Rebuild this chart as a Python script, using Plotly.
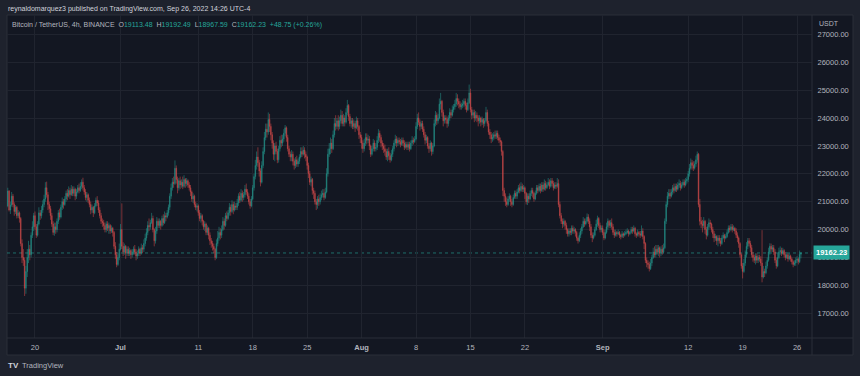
import plotly.graph_objects as go
import pandas as pd

# ---------------- data (BTC/USDT, 4h candles) ----------------
START = "2022-06-16 12:00"
FIRST_OPEN = 20850

CLOSES = [
    21380, 20700, 20880,                                  # Jun 16 (from 12:00)
    21200, 20900, 20650, 20800, 20500, 20600,             # Jun 17
    20400, 19500, 19000, 18900, 17900, 18500,             # Jun 18
    19000, 19300, 19100, 19800, 20100, 20500,             # Jun 19
    20100, 19800, 20200, 20600, 20500, 20700,             # Jun 20
    20900, 21100, 21500, 21250, 20900, 20750,             # Jun 21
    20500, 20200, 19900, 20100, 20000, 20300,             # Jun 22
    20600, 20450, 20800, 21000, 20900, 21100,             # Jun 23
    21300, 21200, 21400, 21250, 21450, 21300,             # Jun 24
    21450, 21200, 21350, 21500, 21400, 21550,             # Jun 25
    21700, 21500, 21350, 21150, 21250, 21050,             # Jun 26
    20900, 20700, 20800, 20600, 20850, 21050,             # Jun 27
    20950, 20700, 20500, 20300, 20250, 20150,             # Jun 28
    20000, 20200, 20050, 20150, 19950, 20050,             # Jun 29
    19900, 19400, 19100, 18750, 19000, 19300,             # Jun 30
    20000, 19400, 19200, 19400, 19150, 19300,             # Jul 1
    19150, 19250, 19100, 19200, 19300, 19200,             # Jul 2
    19050, 19150, 19300, 19150, 19350, 19300,             # Jul 3
    19500, 19700, 19900, 20150, 20100, 20250,             # Jul 4
    20400, 20000, 19600, 19950, 20300, 20150,             # Jul 5
    20300, 20150, 20400, 20250, 20500, 20450,             # Jul 6
    20600, 20800, 21200, 21500, 21700, 21650,             # Jul 7
    22200, 21800, 21500, 21750, 21600, 21700,             # Jul 8
    21550, 21800, 21650, 21750, 21600, 21500,             # Jul 9
    21350, 21100, 21200, 20900, 20800, 20850,             # Jul 10
    20600, 20400, 20500, 20300, 20100, 20200,             # Jul 11
    19900, 20050, 19800, 19600, 19500, 19400,             # Jul 12
    19300, 19000, 19500, 19700, 19900, 19800,             # Jul 13
    20000, 20300, 20150, 20500, 20400, 20600,             # Jul 14
    20800, 20650, 20900, 20700, 20850, 20800,             # Jul 15
    20950, 21200, 21050, 21300, 21150, 21250,             # Jul 16
    21450, 21350, 21200, 21000, 20850, 21100,             # Jul 17
    21500, 21900, 22300, 22600, 22400, 22100,             # Jul 18
    21700, 22300, 22800, 23300, 23600, 23500,             # Jul 19
    23950, 23700, 23400, 23100, 22700, 23000,             # Jul 20
    22800, 22500, 22900, 23200, 23100, 23250,             # Jul 21
    23450, 23650, 23300, 22900, 22700, 22600,             # Jul 22
    22700, 22450, 22300, 22500, 22350, 22450,             # Jul 23
    22600, 22800, 22700, 22850, 22700, 22600,             # Jul 24
    22300, 22000, 21700, 21800, 21400, 21300,             # Jul 25
    21000, 20900, 21100, 21000, 21150, 21250,             # Jul 26
    21300, 21150, 21350, 22000, 22700, 22900,             # Jul 27
    23100, 22900, 23400, 23800, 23700, 23900,             # Jul 28
    23700, 23900, 24100, 23800, 24000, 23850,             # Jul 29
    24200, 24450, 24050, 23800, 23900, 23700,             # Jul 30
    23800, 23650, 23900, 23700, 23400, 23300,             # Jul 31
    23100, 22900, 23100, 23300, 23200, 23250,             # Aug 1
    23000, 22700, 22900, 23100, 22900, 22950,             # Aug 2
    23200, 23450, 23300, 23100, 23000, 22900,             # Aug 3
    22800, 22600, 22800, 22650, 22500, 22700,             # Aug 4
    22900, 23100, 23250, 23100, 23200, 23150,             # Aug 5
    23050, 23200, 23100, 22950, 23050, 22950,             # Aug 6
    23050, 22900, 23100, 23200, 23150, 23250,             # Aug 7
    23700, 24000, 23850, 23700, 23800, 23600,             # Aug 8
    23400, 23200, 23300, 23000, 22900, 23100,             # Aug 9
    22800, 23000, 23800, 24100, 23900, 24000,             # Aug 10
    24500, 24600, 24200, 23900, 24000, 23950,             # Aug 11
    23800, 24000, 24200, 24100, 24300, 24400,             # Aug 12
    24500, 24700, 24600, 24500, 24400, 24450,             # Aug 13
    24500, 24600, 24450, 24300, 24550, 24900,             # Aug 14
    24300, 24100, 24200, 24000, 24100, 24000,             # Aug 15
    23900, 24000, 23850, 23950, 23800, 23900,             # Aug 16
    24200, 23800, 23500, 23400, 23250, 23300,             # Aug 17
    23400, 23350, 23450, 23300, 23200, 23150,             # Aug 18
    22800, 21400, 21200, 21000, 20900, 21100,             # Aug 19
    21200, 21000, 20900, 21150, 21300, 21200,             # Aug 20
    21350, 21500, 21400, 21550, 21450, 21500,             # Aug 21
    21300, 21000, 21200, 21100, 21300, 21400,             # Aug 22
    21300, 21100, 21300, 21500, 21400, 21550,             # Aug 23
    21400, 21600, 21450, 21650, 21500, 21600,             # Aug 24
    21700, 21550, 21750, 21650, 21500, 21600,             # Aug 25
    21550, 21650, 20900, 20500, 20300, 20200,             # Aug 26
    20300, 20150, 20000, 19850, 19950, 19900,             # Aug 27
    20050, 19950, 20000, 19900, 19700, 19600,             # Aug 28
    19800, 19950, 20100, 20300, 20200, 20300,             # Aug 29
    20450, 20300, 20100, 19800, 19700, 19800,             # Aug 30
    20000, 20200, 20400, 20150, 20000, 20050,             # Aug 31
    19900, 19700, 19900, 20100, 20300, 20150,             # Sep 1
    20250, 20100, 19900, 19800, 19900, 19850,             # Sep 2
    19900, 19800, 19750, 19850, 19800, 19850,             # Sep 3
    19900, 19950, 19850, 19900, 20000, 19950,             # Sep 4
    20050, 19850, 19800, 19900, 19850, 19800,             # Sep 5
    19950, 19750, 19500, 18900, 18800, 18750,             # Sep 6
    18600, 18800, 19000, 19200, 19100, 19300,             # Sep 7
    19200, 19350, 19150, 19300, 19200, 19350,             # Sep 8
    20300, 20900, 21200, 21300, 21200, 21350,             # Sep 9
    21500, 21400, 21550, 21450, 21600, 21650,             # Sep 10
    21500, 21600, 21700, 21600, 21750, 21800,             # Sep 11
    22000, 22200, 22400, 22300, 22200, 22350,             # Sep 12
    22500, 22700, 20900, 20300, 20200, 20150,             # Sep 13
    20300, 20000, 19800, 20100, 20250, 20200,             # Sep 14
    20000, 19850, 19700, 19750, 19600, 19700,             # Sep 15
    19600, 19500, 19700, 19800, 19700, 19750,             # Sep 16
    19900, 20050, 20000, 20100, 20000, 20050,             # Sep 17
    19950, 19800, 19700, 19500, 19100, 18700,             # Sep 18
    18500, 18800, 19100, 19400, 19600, 19500,             # Sep 19
    19350, 19100, 19000, 18900, 19050, 18900,             # Sep 20
    19000, 18950, 18800, 18300, 18500, 18450,             # Sep 21
    18700, 18900, 19200, 19400, 19300, 19350,             # Sep 22
    19200, 18900, 18700, 19000, 19200, 19250,             # Sep 23
    19150, 19250, 19100, 19000, 19100, 18950,             # Sep 24
    19050, 18950, 18850, 18750, 18800, 18900,             # Sep 25
    18950, 18850, 19113.48, 19162.23,                     # Sep 26 (to 12:00)
]

HIGHS = [
    21500, 21420, 21000,
    21350, 21280, 20980, 20880, 20850, 20700,
    20650, 20450, 19650, 19300, 19000, 18700,
    19300, 19600, 19450, 19900, 20300, 20600,
    20650, 20200, 20300, 20800, 20700, 20850,
    21050, 21250, 21700, 21720, 21350, 21000,
    20850, 20600, 20300, 20250, 20250, 20400,
    20700, 20750, 20900, 21150, 21100, 21200,
    21400, 21450, 21550, 21500, 21600, 21550,
    21550, 21500, 21450, 21600, 21650, 21700,
    21800, 21860, 21600, 21450, 21350, 21300,
    21150, 21000, 20900, 20850, 20950, 21150,
    21200, 21050, 20800, 20600, 20400, 20350,
    20250, 20300, 20300, 20250, 20200, 20150,
    20100, 19950, 19550, 19200, 19150, 19500,
    20200, 20940, 19550, 19500, 19450, 19400,
    19400, 19350, 19300, 19300, 19400, 19450,
    19300, 19250, 19400, 19350, 19500, 19450,
    19650, 19850, 20050, 20300, 20400, 20350,
    20600, 20500, 20050, 20100, 20450, 20400,
    20400, 20350, 20500, 20550, 20650, 20600,
    20700, 20900, 21300, 21650, 21850, 21900,
    22480, 22300, 21900, 21850, 21900, 21800,
    21900, 21950, 21850, 21850, 21800, 21700,
    21600, 21400, 21300, 21250, 21000, 20950,
    20900, 20700, 20600, 20550, 20350, 20300,
    20250, 20150, 20100, 19900, 19700, 19600,
    19500, 19350, 19650, 19950, 20100, 20050,
    20150, 20450, 20400, 20600, 20650, 20700,
    20950, 20900, 21050, 21000, 21000, 20950,
    21100, 21300, 21350, 21450, 21400, 21350,
    21600, 21650, 21450, 21300, 21100, 21200,
    21600, 22000, 22500, 22800, 22950, 22500,
    22200, 22450, 22950, 23500, 23800, 23800,
    24200, 24150, 23800, 23500, 23200, 23100,
    23150, 22900, 23000, 23350, 23400, 23400,
    23600, 23750, 23700, 23400, 23000, 22800,
    22850, 22800, 22550, 22600, 22650, 22550,
    22700, 22950, 22950, 23000, 22950, 22800,
    22650, 22400, 22100, 21900, 21850, 21500,
    21400, 21100, 21200, 21250, 21300, 21400,
    21450, 21450, 21500, 22200, 22900, 23100,
    23300, 23250, 23550, 24000, 24100, 24000,
    24100, 24050, 24300, 24250, 24150, 24100,
    24350, 24650, 24500, 24150, 24000, 24000,
    23950, 23900, 24050, 24000, 23750, 23500,
    23400, 23200, 23250, 23450, 23450, 23400,
    23350, 23050, 23000, 23250, 23200, 23100,
    23350, 23600, 23550, 23400, 23200, 23100,
    23050, 22900, 22900, 22950, 22750, 22850,
    23000, 23200, 23400, 23350, 23300, 23300,
    23250, 23300, 23300, 23200, 23150, 23150,
    23150, 23150, 23200, 23350, 23300, 23350,
    23850, 24150, 24200, 23950, 23900, 23900,
    23700, 23500, 23400, 23350, 23100, 23200,
    23150, 23100, 23950, 24250, 24200, 24150,
    24700, 24900, 24650, 24300, 24100, 24100,
    24050, 24100, 24350, 24300, 24450, 24500,
    24650, 24900, 24850, 24700, 24600, 24550,
    24650, 24700, 24700, 24550, 24700, 25200,
    25050, 24400, 24300, 24300, 24250, 24200,
    24100, 24100, 24050, 24050, 24000, 24000,
    24400, 24300, 23900, 23600, 23500, 23450,
    23500, 23550, 23550, 23550, 23400, 23300,
    23200, 22850, 21500, 21300, 21150, 21200,
    21300, 21250, 21100, 21250, 21400, 21400,
    21450, 21600, 21650, 21700, 21650, 21600,
    21550, 21350, 21300, 21300, 21400, 21500,
    21500, 21350, 21400, 21600, 21600, 21650,
    21650, 21700, 21700, 21800, 21750, 21700,
    21850, 21800, 21850, 21850, 21750, 21700,
    21700, 21850, 21800, 21000, 20600, 20400,
    20400, 20350, 20250, 20050, 20050, 20050,
    20150, 20150, 20100, 20050, 19950, 19750,
    19900, 20050, 20200, 20450, 20400, 20400,
    20580, 20550, 20400, 20200, 19900, 19900,
    20100, 20350, 20500, 20450, 20250, 20150,
    20150, 20000, 20000, 20250, 20400, 20350,
    20350, 20400, 20200, 20000, 20000, 19950,
    20000, 19950, 19850, 19950, 19900, 19950,
    20000, 20050, 20000, 19950, 20100, 20100,
    20150, 20100, 19900, 20000, 19950, 19950,
    20150, 20050, 19800, 19550, 19000, 18900,
    18850, 18950, 19100, 19350, 19400, 19450,
    19450, 19450, 19400, 19400, 19450, 19500,
    20400, 21000, 21350, 21450, 21450, 21450,
    21600, 21650, 21650, 21650, 21700, 21800,
    21750, 21700, 21800, 21800, 21850, 21900,
    22100, 22350, 22550, 22500, 22450, 22450,
    22650, 22800, 22750, 21100, 20450, 20350,
    20450, 20350, 20100, 20200, 20400, 20350,
    20250, 20100, 19950, 19850, 19800, 19800,
    19800, 19700, 19800, 19900, 19850, 19850,
    20000, 20150, 20150, 20200, 20200, 20150,
    20100, 20050, 19900, 19750, 19550, 19150,
    18800, 18950, 19250, 19550, 19700, 19700,
    19600, 19450, 19200, 19100, 19150, 19150,
    19100, 19100, 19050, 19980, 18700, 18600,
    18850, 19000, 19350, 19510, 19500, 19450,
    19450, 19300, 19000, 19150, 19350, 19400,
    19350, 19350, 19300, 19200, 19200, 19150,
    19150, 19100, 19000, 18900, 18900, 19000,
    19050, 19000, 19250, 19192.49,
]

LOWS = [
    20800, 20650, 20560,
    20820, 20800, 20500, 20560, 20400, 20420,
    20250, 19400, 18800, 18700, 17620, 17700,
    18300, 18800, 18900, 19000, 19700, 19950,
    20000, 19700, 19750, 20150, 20350, 20400,
    20600, 20800, 21000, 21150, 20700, 20600,
    20350, 20100, 19800, 19780, 19850, 19900,
    20200, 20350, 20400, 20700, 20750, 20850,
    21000, 21050, 21150, 21100, 21200, 21200,
    21200, 21050, 21100, 21300, 21300, 21350,
    21450, 21400, 21250, 21050, 21000, 20950,
    20800, 20550, 20600, 20450, 20550, 20800,
    20850, 20600, 20400, 20200, 20100, 20000,
    19900, 19900, 19950, 19850, 19850, 19880,
    19750, 19300, 18950, 18650, 18700, 18900,
    19250, 19300, 19050, 19100, 18950, 19050,
    19050, 19050, 18950, 19000, 19100, 19100,
    18900, 18950, 19050, 19050, 19100, 19150,
    19200, 19400, 19600, 19800, 19950, 20000,
    20200, 19900, 19400, 19500, 19850, 20050,
    20050, 20000, 20100, 20150, 20200, 20300,
    20400, 20500, 20700, 21100, 21400, 21500,
    21600, 21650, 21300, 21400, 21450, 21500,
    21450, 21500, 21500, 21550, 21500, 21400,
    21200, 21000, 20950, 20800, 20700, 20650,
    20500, 20300, 20250, 20150, 20000, 19950,
    19800, 19800, 19650, 19450, 19350, 19250,
    19150, 18900, 18950, 19400, 19600, 19650,
    19700, 19950, 20000, 20100, 20300, 20350,
    20500, 20500, 20600, 20550, 20650, 20700,
    20700, 20850, 20950, 21000, 21000, 21050,
    21150, 21250, 21100, 20900, 20750, 20800,
    21050, 21400, 21800, 22150, 22250, 21900,
    21550, 21650, 22200, 22700, 23200, 23300,
    23400, 23500, 23200, 22900, 22500, 22450,
    22700, 22380, 22400, 22800, 22950, 23000,
    23150, 23350, 23150, 22800, 22600, 22450,
    22450, 22300, 22150, 22200, 22250, 22250,
    22350, 22550, 22600, 22650, 22550, 22450,
    22150, 21850, 21600, 21550, 21250, 21100,
    20900, 20700, 20750, 20850, 20900, 21050,
    21150, 21050, 21100, 21300, 21900, 22600,
    22700, 22750, 22850, 23300, 23550, 23600,
    23550, 23600, 23800, 23700, 23700, 23700,
    23800, 24100, 23900, 23700, 23650, 23600,
    23600, 23500, 23600, 23550, 23250, 23100,
    22900, 22750, 22800, 23000, 23050, 23100,
    22850, 22600, 22650, 22800, 22800, 22800,
    22850, 23100, 23150, 22950, 22850, 22750,
    22650, 22500, 22450, 22500, 22400, 22450,
    22600, 22800, 23000, 22950, 23000, 23050,
    22950, 23000, 23000, 22850, 22900, 22850,
    22850, 22800, 22850, 23000, 23050, 23100,
    23200, 23600, 23750, 23550, 23600, 23500,
    23300, 23050, 23100, 22900, 22750, 22800,
    22650, 22700, 22950, 23700, 23750, 23800,
    23950, 24300, 24050, 23700, 23800, 23800,
    23650, 23700, 23900, 24000, 24050, 24200,
    24300, 24400, 24450, 24350, 24300, 24300,
    24350, 24400, 24300, 24200, 24250, 24500,
    24200, 23950, 24000, 23850, 23900, 23850,
    23700, 23800, 23700, 23750, 23650, 23700,
    23850, 23700, 23400, 23250, 23100, 23150,
    23200, 23250, 23250, 23200, 23100, 23000,
    22650, 21200, 21000, 20850, 20800, 20850,
    21000, 20850, 20800, 20850, 21100, 21100,
    21100, 21300, 21300, 21350, 21350, 21350,
    21100, 20900, 20880, 20950, 21050, 21200,
    21150, 21000, 21050, 21250, 21300, 21350,
    21300, 21350, 21350, 21400, 21400, 21450,
    21550, 21450, 21500, 21550, 21400, 21450,
    21450, 21500, 20800, 20400, 20200, 20050,
    20100, 20000, 19850, 19750, 19750, 19800,
    19800, 19850, 19850, 19750, 19600, 19500,
    19550, 19700, 19850, 20050, 20100, 20150,
    20250, 20200, 19950, 19700, 19550, 19650,
    19750, 19950, 20100, 20050, 19900, 19900,
    19800, 19620, 19650, 19850, 20000, 20050,
    20050, 20000, 19800, 19700, 19750, 19750,
    19800, 19700, 19650, 19700, 19700, 19750,
    19800, 19850, 19750, 19800, 19850, 19850,
    19900, 19750, 19700, 19750, 19750, 19700,
    19750, 19650, 19300, 18800, 18650, 18600,
    18500, 18550, 18700, 18950, 19000, 19000,
    19100, 19050, 19000, 19050, 19100, 19150,
    19300, 20200, 20800, 21100, 21100, 21150,
    21250, 21300, 21350, 21350, 21400, 21500,
    21400, 21450, 21550, 21500, 21550, 21650,
    21700, 21900, 22150, 22150, 22100, 22150,
    22250, 22400, 20800, 20150, 20050, 19900,
    20050, 19850, 19650, 19750, 20000, 20050,
    19900, 19700, 19550, 19600, 19450, 19400,
    19500, 19400, 19450, 19650, 19550, 19650,
    19700, 19850, 19900, 19950, 19900, 19950,
    19850, 19700, 19550, 19350, 19000, 18600,
    18250, 18450, 18700, 19000, 19300, 19400,
    19200, 19000, 18850, 18800, 18750, 18800,
    18800, 18850, 18700, 18110, 18250, 18300,
    18400, 18600, 18850, 19100, 19200, 19200,
    19100, 18800, 18600, 18650, 18950, 19100,
    19050, 19100, 19000, 18900, 18950, 18850,
    18900, 18850, 18750, 18650, 18700, 18700,
    18800, 18750, 18800, 18967.59,
]

X_TICKS = ["2022-06-20", "2022-07-01", "2022-07-11", "2022-07-18", "2022-07-25",
           "2022-08-01", "2022-08-08", "2022-08-15", "2022-08-22", "2022-09-01",
           "2022-09-12", "2022-09-19", "2022-09-26"]
X_LABELS = ["20", "<b>Jul</b>", "11", "18", "25", "<b>Aug</b>", "8", "15", "22",
            "<b>Sep</b>", "12", "19", "26"]
Y_TICKS = [17000, 18000, 19000, 20000, 21000, 22000, 23000, 24000, 25000, 26000, 27000]
Y_LABELS = [f"{v:.2f}" for v in Y_TICKS]

LAST = dict(o=19113.48, h=19192.49, l=18967.59, c=19162.23, chg=48.75, pct=0.26)

# ---------------- build ----------------
assert len(CLOSES) == len(HIGHS) == len(LOWS)
opens = [FIRST_OPEN] + CLOSES[:-1]
highs = [max(h, o, c) for h, o, c in zip(HIGHS, opens, CLOSES)]
lows = [min(l, o, c) for l, o, c in zip(LOWS, opens, CLOSES)]
times = pd.date_range(START, periods=len(CLOSES), freq="4h")
BAR_MS = 4 * 3600 * 1000

W, H = 860, 376
UP, DOWN = "#26a69a", "#ef5350"
UP_C, DOWN_C = "#26a69a", "#ef5350"
BG_OUT, BG_IN = "#1e222d", "#131722"
GRID = "#20242f"
TXT = "#b2b5be"
FONT = "Liberation Sans"

def px(x):
    return x / W

def py(y):
    return 1 - y / H

fig = go.Figure()
fig.add_trace(go.Candlestick(
    x=times, open=opens, high=highs, low=lows, close=CLOSES,
    increasing=dict(line=dict(color=UP_C, width=0.6), fillcolor=UP_C),
    decreasing=dict(line=dict(color=DOWN_C, width=0.6), fillcolor=DOWN_C),
    whiskerwidth=0, hoverinfo="skip", showlegend=False, opacity=0.8,
))

fig.update_layout(
    width=W, height=H, autosize=False,
    margin=dict(l=0, r=0, t=0, b=0),
    paper_bgcolor=BG_OUT, plot_bgcolor=BG_IN,
    font=dict(family=FONT, color=TXT, size=7.5),
    showlegend=False,
    xaxis=dict(
        domain=[px(7), px(812)],
        range=["2022-06-16 09:36", "2022-09-27 22:09"],
        tickvals=X_TICKS, ticktext=X_LABELS,
        showgrid=True, gridcolor=GRID, gridwidth=1,
        zeroline=False, showline=False, ticks="outside", ticklen=2,
        tickcolor="rgba(0,0,0,0)",
        tickfont=dict(size=7.5, color=TXT, family=FONT),
        rangeslider=dict(visible=False), fixedrange=True,
    ),
    yaxis=dict(
        domain=[py(338), py(15)],
        range=[16115, 27692], side="right",
        tickvals=Y_TICKS, ticktext=Y_LABELS,
        showgrid=True, gridcolor=GRID, gridwidth=1,
        zeroline=False, showline=False,
        ticks="outside", ticklen=3, tickcolor="rgba(0,0,0,0)",
        tickfont=dict(size=7.5, color=TXT, family=FONT),
        fixedrange=True,
    ),
)

shapes = [
    dict(type="rect", xref="paper", yref="paper", x0=px(7), x1=px(853), y0=py(355), y1=py(15),
         fillcolor=BG_IN, line=dict(color="#2a2e39", width=1), layer="below"),
    dict(type="line", xref="paper", yref="paper", x0=px(812), x1=px(812), y0=py(355), y1=py(15),
         line=dict(color="#2a2e39", width=1)),
    dict(type="line", xref="paper", yref="paper", x0=px(7), x1=px(853), y0=py(338), y1=py(338),
         line=dict(color="#2a2e39", width=1)),
    dict(type="line", xref="x domain", yref="y", x0=0, x1=1, y0=LAST["c"], y1=LAST["c"],
         line=dict(color=UP, width=1, dash="dot"), opacity=0.6, layer="below"),
]
fig.update_layout(shapes=shapes)

def v(s):
    return f"<span style='color:{UP}'>{s}</span>"

legend = ("Bitcoin / TetherUS, 4h, BINANCE&nbsp;&nbsp;"
          f"O{v(f'{LAST['o']:.2f}')}&nbsp;&nbsp;H{v(f'{LAST['h']:.2f}')}&nbsp;&nbsp;"
          f"L{v(f'{LAST['l']:.2f}')}&nbsp;&nbsp;C{v(f'{LAST['c']:.2f}')}&nbsp;&nbsp;"
          f"{v(f'+{LAST['chg']:.2f} (+{LAST['pct']:.2f}%)')}")

annotations = [
    dict(xref="paper", yref="paper", x=px(6), y=py(9), xanchor="left", yanchor="middle",
         text="reynaldomarquez3 published on TradingView.com, Sep 26, 2022 14:26 UTC-4",
         showarrow=False, font=dict(size=7, color="#d1d4dc", family=FONT)),
    dict(xref="paper", yref="paper", x=px(10), y=py(25), xanchor="left", yanchor="middle",
         text=legend, showarrow=False, font=dict(size=7, color=TXT, family=FONT)),
    dict(xref="paper", yref="paper", x=px(817), y=py(24), xanchor="left", yanchor="middle",
         text="USDT", showarrow=False, font=dict(size=7, color=TXT, family=FONT)),
    dict(xref="paper", yref="y", x=px(813), y=LAST["c"], xanchor="left", yanchor="middle",
         text=f"<b>{LAST['c']:.2f}</b>", showarrow=False, bgcolor=UP, borderpad=2,
         font=dict(size=7.5, color="#ffffff", family=FONT)),
    dict(xref="paper", yref="paper", x=px(6), y=py(365), xanchor="left", yanchor="middle",
         text="<b>TV</b>", showarrow=False, font=dict(size=8, color="#d1d4dc", family=FONT)),
    dict(xref="paper", yref="paper", x=px(20), y=py(365), xanchor="left", yanchor="middle",
         text="TradingView", showarrow=False, font=dict(size=7.5, color="#b2b5be", family=FONT)),
]
fig.update_layout(annotations=annotations)

fig.write_html("out.html", config={"displayModeBar": False},
               post_script="document.body.style.margin='0';")
